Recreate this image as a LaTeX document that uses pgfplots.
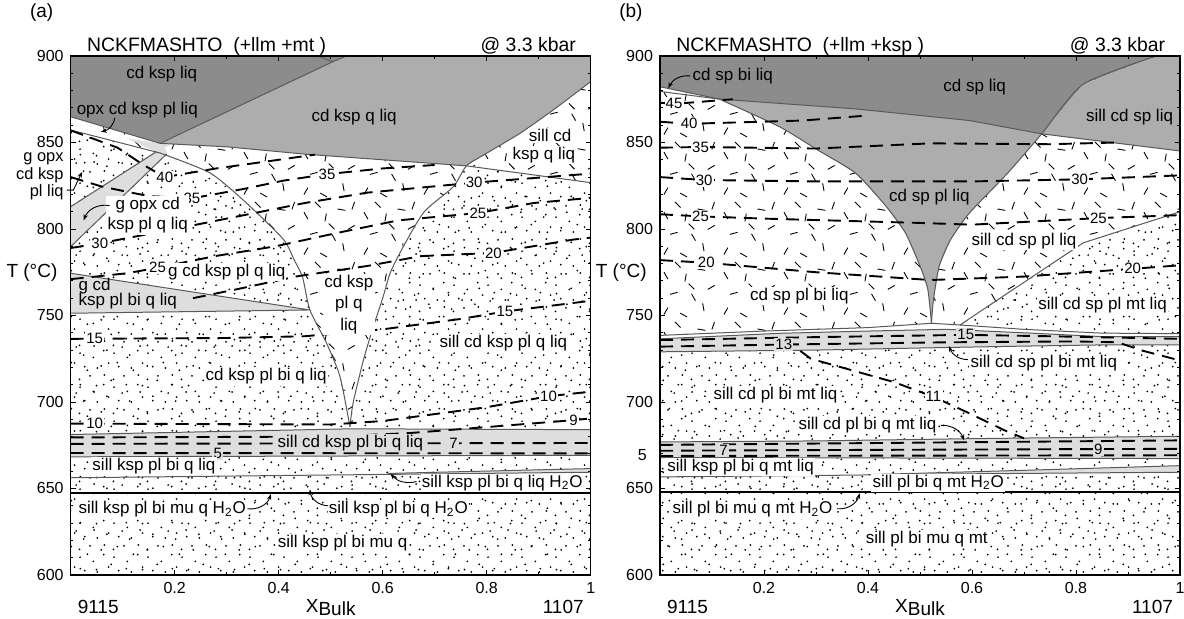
\documentclass[border=0pt]{standalone}
\usepackage{fontspec}
\setmainfont{Liberation Sans}
\usepackage{pgfplots}
\pgfplotsset{compat=1.18}
\usetikzlibrary{patterns,arrows.meta}

\definecolor{darkfill}{gray}{0.55}
\definecolor{midfill}{gray}{0.68}
\definecolor{lightfill}{gray}{0.87}
\definecolor{bndcol}{gray}{0.35}

% two sparse stipples with different tile sizes, laid over each other
\pgfdeclarepatternformonly{stippleA}{\pgfqpoint{0pt}{0pt}}{\pgfqpoint{17pt}{17pt}}{\pgfqpoint{17pt}{17pt}}{%
  \foreach \a/\b in {1.2/3.1,5.9/0.8,11.3/2.6,15.1/6.7,3.4/9.2,8.6/7.4,13.0/12.1,6.2/14.3,0.9/15.6}
    {\pgfpathcircle{\pgfpoint{\a pt}{\b pt}}{0.5pt}}
  \pgfusepath{fill}}
\pgfdeclarepatternformonly{stippleB}{\pgfqpoint{0pt}{0pt}}{\pgfqpoint{23pt}{23pt}}{\pgfqpoint{23pt}{23pt}}{%
  \foreach \a/\b in {2.3/1.7,9.8/4.4,17.5/2.2,21.1/9.6,4.7/11.8,12.9/13.5,19.2/17.3,7.6/19.8,15.4/21.4,1.1/21.9}
    {\pgfpathcircle{\pgfpoint{\a pt}{\b pt}}{0.5pt}}
  \pgfusepath{fill}}
% random short dashes
\pgfdeclarepatternformonly{dashes}{\pgfqpoint{0pt}{0pt}}{\pgfqpoint{30pt}{30pt}}{\pgfqpoint{30pt}{30pt}}{%
  \foreach \a/\b/\c/\d in {2/2.27/4/5.73,10.27/3/13.73/1,22.35/4.03/21.65/7.97,5.07/12.48/8.93/13.52,
    18/9.27/16/12.73,24.27/15/27.73/17,2/23.73/4/20.27,12.65/19.03/13.35/22.97,19.03/25.35/22.97/24.65,
    10.41/26.09/7.59/28.91,26.32/25.12/27.68/28.88,14.59/17.91/17.41/15.09}
    {\pgfpathmoveto{\pgfpoint{\a pt}{\b pt}}\pgfpathlineto{\pgfpoint{\c pt}{\d pt}}}
  \pgfsetlinewidth{0.45pt}
  \pgfusepath{stroke}}

\pgfplotsset{
  phase/.style={
    width=260pt, height=259.5pt, scale only axis,
    xmin=0, xmax=1, ymin=600, ymax=900,
    axis on top, no markers, clip mode=individual,
    tick align=inside,
    xtick={0.2,0.4,0.6,0.8,1}, xticklabels={0.2,0.4,0.6,0.8,1},
    ytick={600,650,...,900},
    minor y tick num=4, minor x tick num=1,
    major tick length=2.5pt, minor tick length=1.3pt,
    axis line style={line width=0.6pt},
    tick style={black, line width=0.4pt},
    tick label style={font=\fontsize{8}{9}\selectfont},
    /pgf/number format/assume math mode=true,
    anchor=south west,
  },
  bnd/.style={draw=bndcol, line width=0.5pt},
  contour/.style={black, line width=0.95pt, dash pattern=on 6.5pt off 4pt},
  stipple/.style={draw=none, pattern=stippleA, postaction={pattern=stippleB}},
}
\tikzset{
  lab/.style={font=\fontsize{8.5}{10}\selectfont, align=center, inner sep=0.6pt},
  labw/.style={lab, fill=white},
  clab/.style={fill=white, inner sep=0.6pt, font=\fontsize{7.5}{8}\selectfont},
  arr/.style={-{Stealth[length=3pt,width=2.2pt]}, line width=0.45pt},
  outer/.style={font=\fontsize{9.5}{11}\selectfont},
}

\begin{document}
\begin{tikzpicture}
%%%%%%%%%%%%%%%%%%%%%%%%%%%% panel (a)
\begin{axis}[phase, at={(35.35pt,22pt)}]
% base stipple
\addplot[stipple] coordinates {(0,600) (1,600) (1,900) (0,900)};
% dashed-texture fields
\addplot[draw=none, preaction={fill=white}, pattern=dashes] coordinates {
  (0.172,845) (0.181,849.3) (0.3,847.5) (0.453,843.2) (0.6,840) (0.761,836.5)
  (0.736,824.5) (0.68,810) (0.64,790) (0.615,775) (0.6,760) (0.582,743.5) (0.563,724.3) (0.543,699.3) (0.537,685.7)
  (0.518,714.6) (0.492,734) (0.46,753.2) (0.446,772) (0.43,782) (0.409,794) (0.338,815) (0.268,832.4) (0.172,843.9)};
\addplot[draw=none, preaction={fill=white}, pattern=dashes] coordinates {
  (0.761,836.5) (0.8,843.8) (0.864,855.3) (0.928,868.8) (1,885.2) (1,826.8)};
\addplot[draw=none, preaction={fill=white}, pattern=dashes] coordinates {
  (0,864.9) (0.172,849.5) (0.172,843.9) (0,857.2)};
% grey fields
\addplot[draw=none, fill=darkfill] coordinates {(0,900) (0,864.9) (0.172,849.5) (0.504,896.7) (0.53,900)};
\addplot[draw=none, fill=midfill] coordinates {
  (0.172,849.5) (0.504,896.7) (0.53,900) (1,900) (1,885.2) (0.928,868.8) (0.864,855.3) (0.8,843.8) (0.761,836.5)
  (0.6,840) (0.453,843.2) (0.3,847.5) (0.181,849.3)};
\addplot[draw=none, fill=lightfill] coordinates {(0.108,852.4) (0.191,848.6) (0.165,844.7)};
\addplot[draw=none, fill=lightfill] coordinates {(0,812.9) (0.163,845) (0.18,847) (0.185,843.5) (0,789.8)};
\addplot[draw=none, fill=lightfill] coordinates {(0,774.4) (0.46,753.2) (0,751.3)};
\addplot[draw=none, fill=lightfill] coordinates {(0,681.2) (0.54,684.5) (1,684) (1,669.2) (0,668.3)};
\addplot[draw=none, fill=lightfill] coordinates {(0.61,658.6) (1,661.5) (1,659.4)};
% field boundaries
\addplot[bnd] coordinates {(0,864.9) (0.172,849.5) (0.504,896.7) (0.53,900)};
\addplot[bnd] coordinates {(0.475,900) (0.504,896.7)};
\addplot[bnd] coordinates {(0.172,849.5) (0.3,847.5) (0.453,843.2) (0.6,840) (0.761,836.5) (1,826.8)};
\addplot[bnd, smooth, tension=0.4] coordinates {(1,885.2) (0.928,868.8) (0.864,855.3) (0.8,843.8) (0.761,836.5)
  (0.736,824.5) (0.68,810) (0.64,790) (0.615,775) (0.6,760) (0.582,743.5) (0.563,724.3) (0.543,699.3) (0.537,685.7)};
\addplot[bnd, smooth, tension=0.4] coordinates {(0.172,843.9) (0.268,832.4) (0.338,815) (0.409,794) (0.43,782) (0.446,772)
  (0.46,753.2) (0.492,734) (0.518,714.6) (0.537,685.7)};
\addplot[bnd] coordinates {(0,857.2) (0.172,843.9)};
\addplot[bnd] coordinates {(0,812.9) (0.165,844.7)};
\addplot[bnd] coordinates {(0,789.8) (0.185,843.5)};
\addplot[bnd] coordinates {(0,774.4) (0.46,753.2) (0,751.3)};
\addplot[bnd] coordinates {(0,681.2) (0.54,684.5) (1,684)};
\addplot[bnd] coordinates {(0,668.3) (1,669.2)};
\addplot[bnd] coordinates {(0,656.2) (1,659.4)};
\addplot[bnd] coordinates {(0.61,658.7) (1,661.5)};
\addplot[black, line width=0.7pt] coordinates {(0,647.5) (1,647.5)};
% isopleths
\addplot[contour] coordinates {(0,857) (0.09,847) (0.14,837) (0.181,830) (0.28,835) (0.4,840) (0.47,843)};
\addplot[contour] coordinates {(0,830) (0.06,824.5) (0.15,819) (0.233,817.7) (0.33,823) (0.41,828) (0.493,831.7) (0.6,835) (0.7,837)};
\addplot[contour] coordinates {(0,789) (0.056,791.7) (0.2,800) (0.3,806) (0.45,815) (0.57,821) (0.776,826.8) (1,832)};
\addplot[contour] coordinates {(0,771) (0.108,774.4) (0.167,777.6) (0.277,784.3) (0.394,790) (0.512,797.7) (0.63,805) (0.783,809.2) (0.89,815) (1,818)};
\addplot[contour] coordinates {(0.235,760) (0.32,765.2) (0.438,772.8) (0.57,778.6) (0.673,784.3) (0.813,786.2) (0.967,793.9) (1,795)};
\addplot[contour] coordinates {(0,736.5) (0.3,737) (0.45,738) (0.6,742) (0.75,748) (0.835,752.3) (1,758.5)};
\addplot[contour] coordinates {(0,687.5) (0.5,687) (0.6,689) (0.8,697) (0.919,703.3) (1,706)};
\addplot[contour] coordinates {(0,679.5) (0.5,680) (0.65,682) (0.8,685.5) (0.967,689.5) (1,690.5)};
\addplot[contour] coordinates {(0,675.8) (1,676.3)};
\addplot[contour] coordinates {(0,670.5) (1,670.3)};
\node[clab] at (0.181,830) {40};
\node[clab] at (0.233,817.7) {35};
\node[clab] at (0.493,831.7) {35};
\node[clab] at (0.056,791.7) {30};
\node[clab] at (0.776,826.8) {30};
\node[clab] at (0.167,777.6) {25};
\node[clab] at (0.783,809.2) {25};
\node[clab] at (0.813,786.2) {20};
\node[clab] at (0.046,736.5) {15};
\node[clab] at (0.835,752.3) {15};
\node[clab] at (0.046,687.5) {10};
\node[clab] at (0.919,703.3) {10};
\node[clab] at (0.967,689.5) {9};
\node[clab, fill=lightfill] at (0.736,676.3) {7};
\node[clab, fill=lightfill] at (0.283,670.3) {5};
% field labels
\node[lab] at (0.175,889.5) {cd ksp liq};
\node[lab] at (0.128,868.5) {opx cd ksp pl liq};
\draw[arr] (0.085,864.3) to[bend left=35] (0.058,856.3);
\node[lab] at (0.545,864.6) {cd ksp q liq};
\node[labw] at (0.922,854) {sill cd};
\node[labw] at (0.91,842.6) {ksp q liq};
\node[labw] at (0.148,807.8) {g opx cd\\ksp pl q liq};
\draw[arr] (0.075,813.5) to[bend right=40] (0.025,805);
\node[labw] at (0.3,775) {g cd ksp pl q liq};
\node[lab, anchor=west] at (0.012,767) {g cd};
\node[lab, anchor=west] at (0.012,758.5) {ksp pl bi q liq};
\node[labw, font=\fontsize{8.5}{10.8}\selectfont] at (0.535,756.5) {cd ksp\\pl q\\liq};
\node[labw] at (0.376,714.8) {cd ksp pl bi q liq};
\node[labw] at (0.832,734) {sill cd ksp pl q liq};
\node[lab, fill=lightfill] at (0.538,676.3) {sill cd ksp pl bi q liq};
\node[labw] at (0.16,663) {sill ksp pl bi q liq};
\node[labw] at (0.83,653.3) {sill ksp pl bi q liq H\textsubscript{2}O};
\draw[arr] (0.665,654) to[bend left=30] (0.615,658.4);
\node[labw] at (0.176,637.9) {sill ksp pl bi mu q H\textsubscript{2}O};
\draw[arr] (0.34,638.3) to[bend right=40] (0.385,646.8);
\node[labw] at (0.63,638) {sill ksp pl bi q H\textsubscript{2}O};
\draw[arr] (0.495,640) to[bend left=40] (0.46,649.5);
\node[labw] at (0.523,618.7) {sill ksp pl bi mu q};
% outside text
\node[outer, anchor=east] at (axis description cs:-0.012,0.582) {T (°C)};
\node[outer, anchor=east] at (axis description cs:-0.02,1.083) {(a)};
\node[font=\fontsize{9.7}{11}\selectfont, anchor=base west] at (axis description cs:0.018,1.008) {NCKFMASHTO\ \ (+llm +mt )};
\node[font=\fontsize{9.7}{11}\selectfont, anchor=base east] at (axis description cs:0.985,1.008) {@ 3.3 kbar};
\node[lab, align=right, anchor=east, inner sep=0pt, font=\fontsize{8.2}{7}\selectfont] at (axis description cs:-0.013,0.768) {g opx\\cd ksp\\pl liq};
\draw[arr] (-0.008,822.5) -- (0.005,822.5) -- (0.022,833);
\node[outer, anchor=west] at (axis description cs:0,-0.062) {9115};
\node[outer, anchor=east] at (axis description cs:1,-0.062) {1107};
\node[outer] at (axis description cs:0.5,-0.062) {X\raisebox{-1.5pt}{Bulk}};
\end{axis}
%%%%%%%%%%%%%%%%%%%%%%%%%%%% panel (b)
\begin{axis}[phase, at={(330pt,22pt)}]
\addplot[stipple] coordinates {(0,600) (1,600) (1,900) (0,900)};
\addplot[draw=none, preaction={fill=white}, pattern=dashes] coordinates {
  (0,882.2) (0.114,875.1) (0.377,869.4) (0.595,862.7) (0.734,855) (1,845.1) (1,810) (0.814,792) (0.615,752.2)
  (0.577,744.5) (0.522,745.5) (0.4,743) (0.2,741) (0,738.5)};
\addplot[draw=none, fill=darkfill] coordinates {
  (0,900) (0.955,900) (0.814,883.7) (0.734,855) (0.595,862.7) (0.377,869.4) (0.114,875.1) (0,882.2)};
\addplot[draw=none, fill=midfill] coordinates {
  (0.114,875.1) (0.231,858.9) (0.304,845.5) (0.377,832.1) (0.435,813) (0.472,797.7) (0.5,778.6) (0.515,765.2)
  (0.522,745.5) (0.526,759.5) (0.537,778.6) (0.559,793.9) (0.595,809.2) (0.668,832.1) (0.734,855)
  (0.595,862.7) (0.377,869.4)};
\addplot[draw=none, fill=midfill] coordinates {(0.734,855) (0.814,883.7) (0.955,900) (1,900) (1,845.1)};
\addplot[draw=none, fill=white] coordinates {
  (0,738.5) (0.2,741) (0.4,743) (0.522,745.5) (0.577,744.5) (0.7,742) (0.85,739.8) (1,739.5)
  (1,737.8) (0.85,737.8) (0.7,740) (0.55,742) (0.4,741) (0.23,739.7) (0,736.5)};
\addplot[draw=none, fill=lightfill] coordinates {
  (0,736.5) (0.23,739.7) (0.4,741) (0.55,742) (0.7,740) (0.85,737.8) (1,737.8)
  (1,733) (0.85,733) (0.7,732.3) (0.55,731.5) (0.3,730) (0,729)};
\addplot[draw=none, fill=lightfill] coordinates {(0,676.9) (0.3,677.5) (0.6,678.8) (1,680.2) (1,667.3) (0,667.9)};
\addplot[draw=none, fill=lightfill] coordinates {(0.4,658) (0.7,660.5) (1,663.2) (1,659.4) (0.6,658.5)};
% boundaries
\addplot[bnd] coordinates {(0,882.2) (0.114,875.1) (0.377,869.4) (0.595,862.7) (0.734,855) (1,845.1)};
\addplot[bnd] coordinates {(0,879.5) (0.114,875.1)};
\addplot[bnd, smooth, tension=0.4] coordinates {(0.955,900) (0.814,883.7) (0.734,855) (0.668,832.1) (0.595,809.2)
  (0.559,793.9) (0.537,778.6) (0.526,759.5) (0.522,745.5)};
\addplot[bnd, smooth, tension=0.4] coordinates {(0.114,875.1) (0.231,858.9) (0.304,845.5) (0.377,832.1) (0.435,813)
  (0.472,797.7) (0.5,778.6) (0.515,765.2) (0.522,745.5)};
\addplot[bnd] coordinates {(0.577,744.5) (0.615,752.2) (0.814,792) (1,810)};
\addplot[bnd] coordinates {(0,738.5) (0.2,741) (0.4,743) (0.522,745.5) (0.577,744.5) (0.7,742) (0.85,739.8) (1,739.5)};
\addplot[bnd] coordinates {(0,736.5) (0.23,739.7) (0.4,741) (0.55,742) (0.7,740) (0.85,737.8) (1,737.8)};
\addplot[bnd] coordinates {(0,729) (0.3,730) (0.55,731.5) (0.7,732.3) (0.85,733) (1,733)};
\addplot[bnd] coordinates {(0,676.9) (0.3,677.5) (0.6,678.8) (1,680.2)};
\addplot[bnd] coordinates {(0,667.9) (1,667.3)};
\addplot[bnd] coordinates {(0,656.7) (0.3,657.5) (0.6,658.5) (1,659.4)};
\addplot[bnd] coordinates {(0.4,658) (0.7,660.5) (1,663.2)};
\addplot[black, line width=0.7pt] coordinates {(0,648) (1,648)};
% isopleths
\addplot[contour] coordinates {(0,873) (0.027,872.3) (0.14,875)};
\addplot[contour] coordinates {(0,862) (0.056,860.8) (0.275,862.7) (0.4,865.6)};
\addplot[contour] coordinates {(0,847) (0.078,847.4) (0.3,846.5) (0.52,849.5) (0.75,849) (0.88,850)};
\addplot[contour] coordinates {(0,830) (0.085,828.3) (0.3,827.5) (0.6,827.5) (0.807,828.7) (1,831)};
\addplot[contour] coordinates {(0,808.5) (0.078,807.3) (0.2,806) (0.5,803.5) (0.6,802.5) (0.843,806.3) (1,808)};
\addplot[contour] coordinates {(0,782) (0.089,780.5) (0.3,775) (0.52,770.5) (0.7,772.5) (0.909,777) (1,779)};
\addplot[contour] coordinates {(0,735.8) (0.3,737.5) (0.588,738.8) (0.75,738) (1,736.5)};
\addplot[contour] coordinates {(0,732) (0.238,733.2) (0.55,734.5) (0.8,735) (0.88,734.5) (0.93,729.5) (1,724)};
\addplot[contour] coordinates {(0.27,729.5) (0.29,725) (0.45,711.5) (0.526,703) (0.596,693.3) (0.662,683.7) (0.7,679)};
\addplot[contour] coordinates {(0,675.2) (0.5,676.5) (1,677.8)};
\addplot[contour] coordinates {(0,671.8) (0.122,672) (0.843,672.8) (1,672.9)};
\addplot[contour] coordinates {(0,668.8) (1,669.2)};
\node[clab] at (0.027,872.3) {45};
\node[clab] at (0.056,860.8) {40};
\node[clab] at (0.078,847.4) {35};
\node[clab] at (0.085,828.3) {30};
\node[clab] at (0.078,807.3) {25};
\node[clab] at (0.089,780.5) {20};
\node[clab] at (0.807,828.7) {30};
\node[clab] at (0.843,806.3) {25};
\node[clab] at (0.909,777) {20};
\node[clab, fill=lightfill] at (0.588,738.8) {15};
\node[clab, fill=lightfill] at (0.238,733.2) {13};
\node[clab] at (0.526,703) {11};
\node[clab, fill=lightfill] at (0.122,672) {7};
\node[clab, fill=lightfill] at (0.843,672.8) {9};
% field labels
\node[lab] at (0.14,888.5) {cd sp bi liq};
\draw[arr] (0.058,888.5) to[bend right=35] (0.016,881.3);
\node[lab] at (0.605,882.2) {cd sp liq};
\node[lab] at (0.903,864.6) {sill cd sp liq};
\node[lab] at (0.518,818.7) {cd sp pl liq};
\node[labw] at (0.7,792.9) {sill cd sp pl liq};
\node[labw] at (0.268,761.4) {cd sp pl bi liq};
\node[labw] at (0.851,755.8) {sill cd sp pl mt liq};
\node[labw] at (0.738,722.5) {sill cd sp pl bi mt liq};
\draw[arr] (0.592,724.5) to[bend left=35] (0.556,732.3);
\node[labw] at (0.222,703.8) {sill cd pl bi mt liq};
\node[labw] at (0.399,686.5) {sill cd pl bi q mt liq};
\draw[arr] (0.54,686.5) to[bend left=35] (0.585,677.8);
\node[labw] at (0.155,662.5) {sill ksp pl bi q mt liq};
\node[labw] at (0.535,653.3) {sill pl bi q mt H\textsubscript{2}O};
\node[labw] at (0.178,637.9) {sill pl bi mu q mt H\textsubscript{2}O};
\draw[arr] (0.34,638.3) to[bend right=40] (0.384,647.3);
\node[labw] at (0.513,620.6) {sill pl bi mu q mt};
% outside text
\node[outer, anchor=east] at (axis description cs:-0.012,0.582) {T (°C)};
\node[outer, anchor=east] at (axis description cs:-0.02,1.083) {(b)};
\node[font=\fontsize{9.7}{11}\selectfont, anchor=base west] at (axis description cs:0.018,1.008) {NCKFMASHTO\ \ (+llm +ksp )};
\node[font=\fontsize{9.7}{11}\selectfont, anchor=base east] at (axis description cs:0.985,1.008) {@ 3.3 kbar};
\node[font=\fontsize{8}{9}\selectfont, anchor=east] at (axis description cs:-0.012,0.231) {5};
\node[outer, anchor=west] at (axis description cs:0,-0.062) {9115};
\node[outer, anchor=east] at (axis description cs:1,-0.062) {1107};
\node[outer] at (axis description cs:0.5,-0.062) {X\raisebox{-1.5pt}{Bulk}};
\end{axis}
\pgfresetboundingbox
\path (0,0) rectangle (592pt,309.5pt);
\end{tikzpicture}
\end{document}
